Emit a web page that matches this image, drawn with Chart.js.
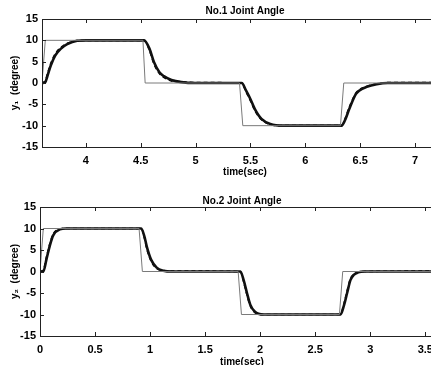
<!DOCTYPE html>
<html>
<head>
<meta charset="utf-8">
<script src="https://cdn.jsdelivr.net/npm/chart.js@4.4.1/dist/chart.umd.min.js"></script>
<style>
html, body { margin:0; padding:0; background:#fff; overflow:hidden; width:431px; height:365px; }
canvas { position:absolute; left:0; }
#c1 { top:0; }
#c2 { top:180px; }
</style>
</head>
<body>
<canvas id="c1" width="452" height="180"></canvas>
<canvas id="c2" width="448" height="190"></canvas>
<script>
const yTicks = [-15, -10, -5, 0, 5, 10, 15];
const xTicks1 = [4, 4.5, 5, 5.5, 6, 6.5, 7];
const xTicks2 = [0, 0.5, 1, 1.5, 2, 2.5, 3, 3.5];

// joint 1: reference (thin), output (thick), desired (dashed)
const t1Ref = [3.6, 3.63, 4.52, 4.54, 5.40, 5.43, 6.32, 6.35, 7.3];
const y1Ref = [0, 10, 10, 0, 0, -10, -10, 0, 0];
const t1Out = [3.6, 3.63, 3.65, 3.68, 3.72, 3.77, 3.83, 3.92, 4.0, 4.53, 4.58, 4.62, 4.67, 4.71, 4.78, 4.87, 5.0, 5.42, 5.46, 5.50, 5.54, 5.60, 5.68, 5.80, 6.33, 6.36, 6.40, 6.46, 6.49, 6.56, 6.65, 6.75, 7.3];
const y1Out = [0, 0.2, 1.7, 4.1, 6.4, 8.0, 9.1, 9.9, 10, 10, 8, 4.9, 2.5, 1.6, 0.7, 0.2, 0, 0, -1.8, -3.8, -6.1, -8.4, -9.6, -10, -10, -8.8, -6.1, -2.6, -1.8, -0.9, -0.3, 0, 0];
const y1Des = [0, 0.4, 2.2, 4.6, 6.8, 8.3, 9.3, 9.95, 10, 10, 7.6, 4.5, 2.2, 1.3, 0.5, 0.3, 0.1, 0, -2.1, -4.2, -6.5, -8.6, -9.7, -10, -10, -8.5, -5.7, -2.4, -1.6, -0.8, -0.2, 0.1, 0.1];

// joint 2
const t2Ref = [0, 0.03, 0.90, 0.93, 1.80, 1.83, 2.72, 2.75, 3.7];
const y2Ref = [0, 10, 10, 0, 0, -10, -10, 0, 0];
const t2Out = [0, 0.03, 0.06, 0.09, 0.12, 0.18, 0.24, 0.92, 0.95, 0.97, 1.01, 1.06, 1.12, 1.2, 1.82, 1.85, 1.88, 1.91, 1.95, 2.03, 2.73, 2.76, 2.79, 2.82, 2.85, 2.89, 2.95, 3.7];
const y2Out = [0, 0, 3.0, 6.1, 8.4, 9.8, 10, 10, 8, 5.8, 2.7, 0.9, 0.2, 0, 0, -2, -5, -7.7, -9.3, -10, -10, -8, -5, -2, -0.8, -0.2, 0, 0];
const y2Des = [0, 0.3, 3.5, 6.5, 8.7, 9.9, 10, 10, 7.6, 5.3, 2.4, 0.7, 0.2, 0.1, 0, -2.4, -5.4, -8.0, -9.5, -10, -10, -7.6, -4.5, -1.7, -0.6, -0.1, 0, 0.1];

function pts(t, y) {
    return t.map((v, i) => ({x: v, y: y[i]}));
}

// box round the plot plus small inward ticks
const frame = {
    id: 'frame',
    afterDatasetsDraw(chart) {
        const {ctx, chartArea: a, scales} = chart;
        ctx.save();
        ctx.strokeStyle = '#222';
        ctx.lineWidth = 1;
        ctx.strokeRect(a.left + 0.5, a.top + 0.5, a.right - a.left, a.bottom - a.top);
        ctx.beginPath();
        scales.x.ticks.forEach(t => {
            const px = Math.round(scales.x.getPixelForValue(t.value)) + 0.5;
            ctx.moveTo(px, a.top); ctx.lineTo(px, a.top + 4);
            ctx.moveTo(px, a.bottom); ctx.lineTo(px, a.bottom - 4);
        });
        scales.y.ticks.forEach(t => {
            const py = Math.round(scales.y.getPixelForValue(t.value)) + 0.5;
            ctx.moveTo(a.left, py); ctx.lineTo(a.left + 4, py);
        });
        ctx.stroke();
        ctx.restore();
    }
};

const tickFont = {family: '"Liberation Sans", Arial, sans-serif', size: 11, weight: 'bold'};
const labFont = {family: '"Liberation Sans", Arial, sans-serif', size: 10, weight: 'bold'};

function makeChart(id, tRef, yRef, tOut, yOut, yDes, xTicks, xmin, xmax, title, ylab, yW, topH, titlePad, xH) {
    new Chart(document.getElementById(id), {
        type: 'line',
        data: {
            datasets: [
                {data: pts(tRef, yRef), borderColor: '#7a7a7a', borderWidth: 1, pointRadius: 0, tension: 0},
                {data: pts(tOut, yOut), borderColor: '#111', borderWidth: 2.6, pointRadius: 0, cubicInterpolationMode: 'monotone'},
                {data: pts(tOut, yDes), borderColor: '#000', borderWidth: 1.6, borderDash: [4, 3], pointRadius: 0, cubicInterpolationMode: 'monotone'}
            ]
        },
        options: {
            responsive: false,
            animation: false,
            layout: {padding: {top: 0, left: 0, right: 4, bottom: 0}},
            plugins: {legend: {display: false}, tooltip: {enabled: false}},
            scales: {
                x: {
                    type: 'linear', min: xmin, max: xmax,
                    grid: {display: false, drawTicks: false}, border: {display: false},
                    afterBuildTicks: s => { s.ticks = xTicks.map(v => ({value: v})); },
                    afterFit: s => { s.height = xH; },
                    ticks: {color: '#000', font: tickFont, padding: 7, maxRotation: 0, autoSkip: false,
                            callback: v => String(v)},
                    title: {display: true, text: 'time(sec)', color: '#000', font: labFont, padding: {top: 0, bottom: 2}}
                },
                x2: {
                    type: 'linear', position: 'top', min: xmin, max: xmax,
                    grid: {display: false, drawTicks: false}, border: {display: false},
                    ticks: {display: false},
                    afterFit: s => { s.height = topH; },
                    title: {display: true, text: title, color: '#000', font: labFont, padding: {top: titlePad, bottom: 0}}
                },
                y: {
                    min: -15, max: 15,
                    grid: {display: false, drawTicks: false}, border: {display: false},
                    afterBuildTicks: s => { s.ticks = yTicks.map(v => ({value: v})); },
                    afterFit: s => { s.width = yW; },
                    ticks: {color: '#000', font: tickFont, padding: 4},
                    title: {display: true, text: ylab, color: '#000', font: labFont, padding: {top: 9, bottom: 0}}
                }
            }
        },
        plugins: [frame]
    });
}

makeChart('c1', t1Ref, y1Ref, t1Out, y1Out, y1Des, xTicks1, 3.6, 7.3, 'No.1 Joint Angle', 'y\u2081  (degree)', 42, 19, 5.5, 33);
makeChart('c2', t2Ref, y2Ref, t2Out, y2Out, y2Des, xTicks2, 0, 3.67, 'No.2 Joint Angle', 'y\u2082  (degree)', 40, 27, 15, 34);
</script>
</body>
</html>
